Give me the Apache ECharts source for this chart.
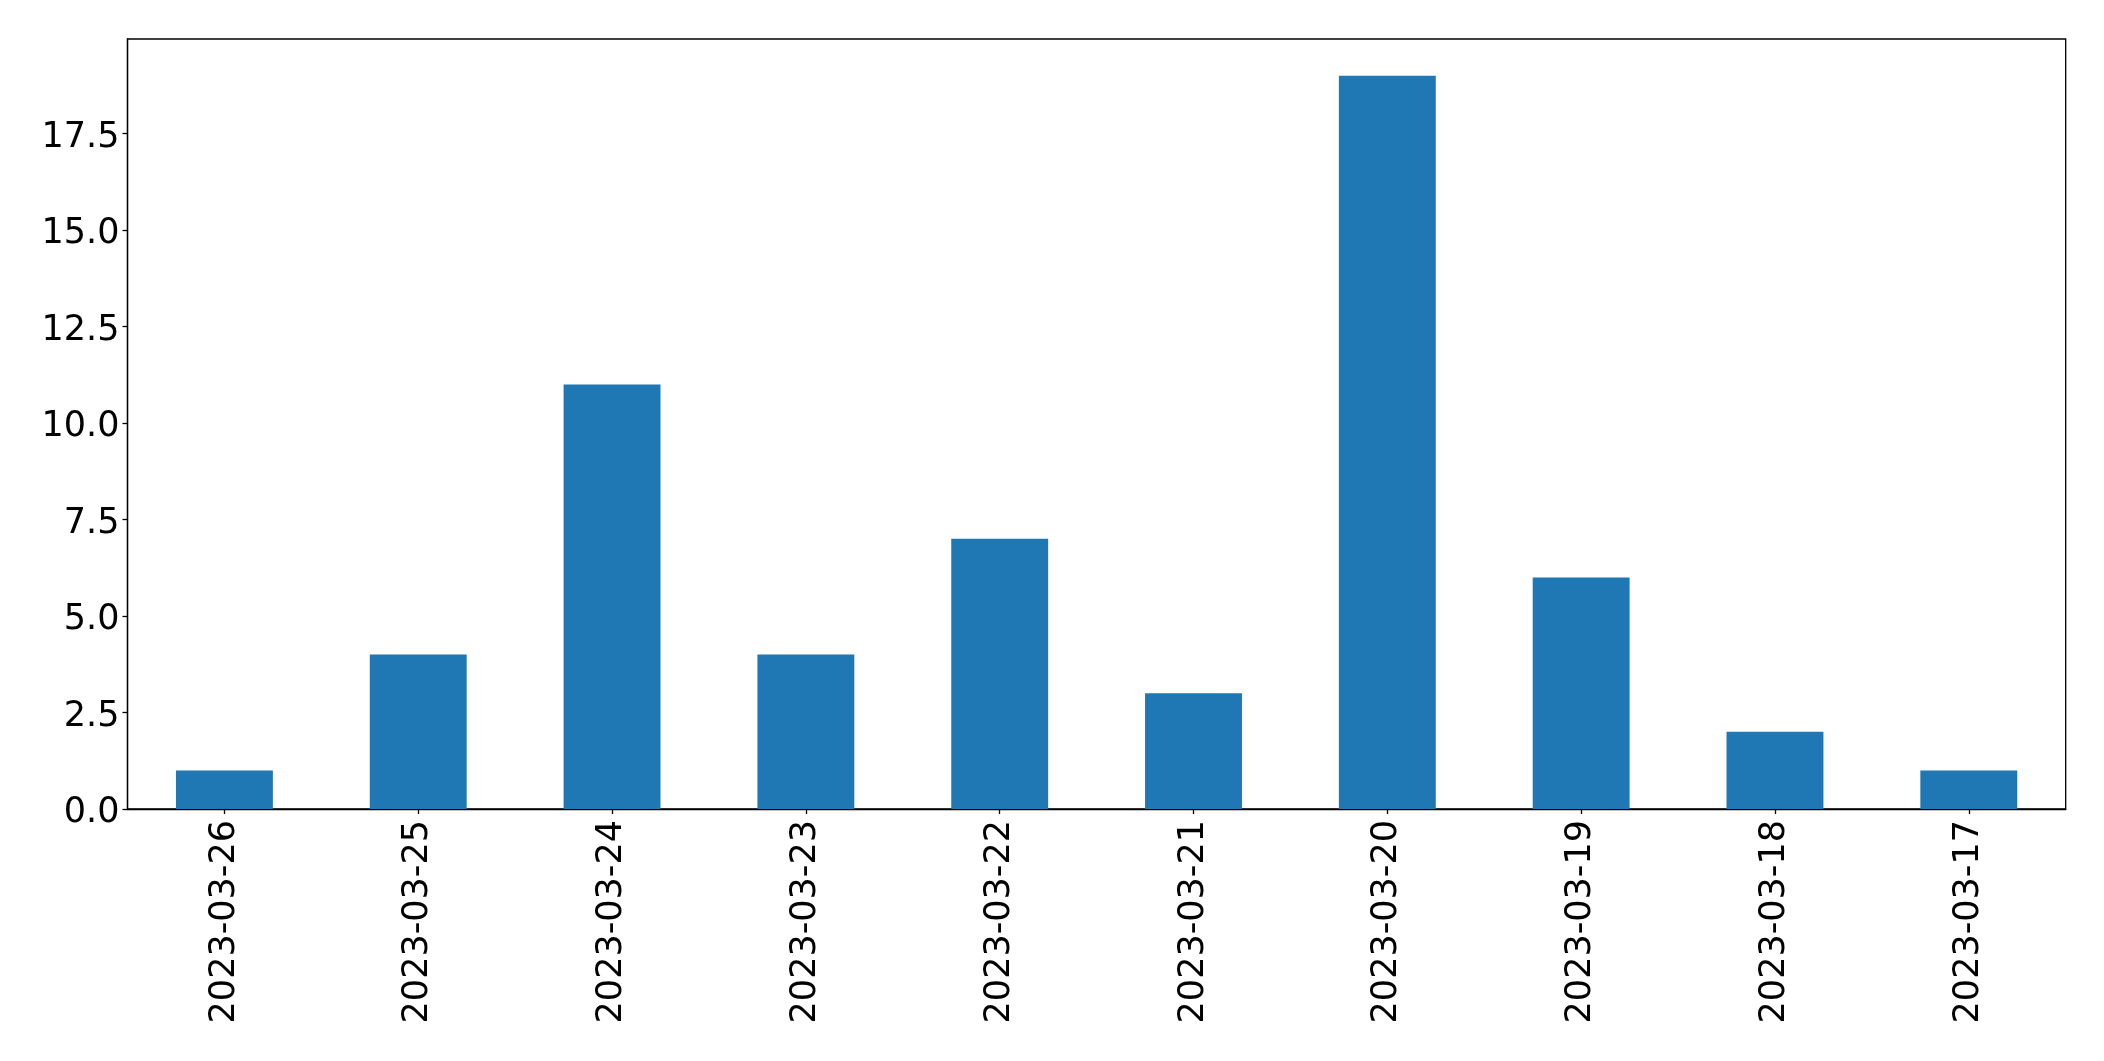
<!DOCTYPE html>
<html>
<head>
<meta charset="utf-8">
<script src="https://cdn.jsdelivr.net/npm/echarts@6/dist/echarts.min.js"></script>
<style>
html,body{margin:0;padding:0;background:#fff;}
#chart{width:2104px;height:1061px;}
</style>
</head>
<body>
<div id="chart"></div>
<script>
const categories = ["2023-03-26","2023-03-25","2023-03-24","2023-03-23","2023-03-22","2023-03-21","2023-03-20","2023-03-19","2023-03-18","2023-03-17"];
const values = [1, 4, 11, 4, 7, 3, 19, 6, 2, 1];
const yMax = 19.95;
const yInterval = 2.5;

const chart = echarts.init(document.getElementById('chart'), null, {renderer: 'canvas'});
const font = 'DejaVu Sans';
chart.setOption({
  animation: false,
  backgroundColor: '#ffffff',
  grid: {
    left: 127.5, top: 39, right: 38.3, bottom: 252,
    show: true, borderColor: '#000', borderWidth: 1.3, backgroundColor: 'transparent'
  },
  xAxis: {
    type: 'category',
    data: categories,
    boundaryGap: true,
    axisLine: {show: true, lineStyle: {color: '#000', width: 1.3}},
    axisTick: {show: true, alignWithLabel: true, length: 5, lineStyle: {color: '#000', width: 1.3}},
    axisLabel: {rotate: 90, margin: 11, color: '#000', fontSize: 35, fontFamily: font, interval: 0}
  },
  yAxis: {
    type: 'value',
    min: 0, max: yMax, interval: yInterval,
    splitLine: {show: false},
    axisLine: {show: true, lineStyle: {color: '#000', width: 1.3}},
    axisTick: {show: true, length: 5, lineStyle: {color: '#000', width: 1.3}},
    axisLabel: {
      margin: 8, color: '#000', fontSize: 35, fontFamily: font, showMaxLabel: false,
      formatter: v => (Math.abs(v / yInterval - Math.round(v / yInterval)) < 1e-6) ? '{a|' + v.toFixed(1) + '}' : '',
      rich: {a: {fontSize: 35, fontFamily: font, color: '#000', padding: [8, 0, 0, 0]}}
    }
  },
  series: [{
    type: 'bar',
    data: values,
    barWidth: '50%',
    itemStyle: {color: '#1f77b4'}
  }]
});
</script>
</body>
</html>
